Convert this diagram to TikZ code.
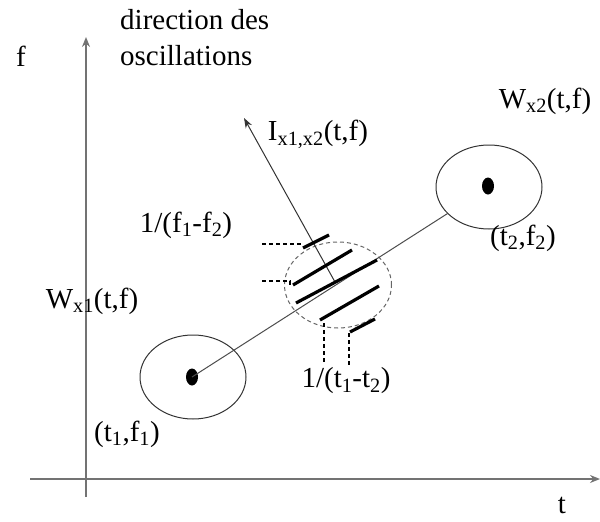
\documentclass[tikz,border=0pt]{standalone}
\usepackage{fontspec}
\setmainfont{Liberation Serif}
\usetikzlibrary{shapes.geometric,arrows.meta}
\begin{document}
\begin{tikzpicture}[x=1pt,y=-1pt,
  lbl/.style={font=\fontsize{29}{35}\selectfont, inner sep=0pt, text=black},
  axisline/.style={draw=black!55, line width=1.6pt, -{Stealth[length=10pt,width=8pt]}},
  blob/.style={ellipse, draw=black!80, line width=1pt, minimum width=106pt, minimum height=84pt, inner sep=0pt},
  dotnode/.style={ellipse, fill=black, minimum width=12pt, minimum height=17pt, inner sep=0pt},
  zone/.style={ellipse, draw=black!60, line width=1pt, dash pattern=on 4pt off 3pt, minimum width=107pt, minimum height=86pt, inner sep=0pt},
  hatch/.style={line width=3.2pt, black},
  guide/.style={line width=1.3pt, black, dash pattern=on 4pt off 3pt},
  thinline/.style={draw=black!70, line width=1pt},
  arrowline/.style={draw=black!80, line width=1pt, -{Stealth[length=10pt,width=7pt]}}
]
\useasboundingbox (0,0) rectangle (600,522);

% axes
\coordinate (ybot) at (86,497);
\coordinate (ytop) at (86,37);
\coordinate (xleft) at (30,479);
\coordinate (xright) at (600,479);
\draw[axisline] (ybot) -- (ytop);
\draw[axisline] (xleft) -- (xright);

% labels
\node[lbl, anchor=base] (lf) at (21,66) {f};
\node[lbl, anchor=base west] (dir1) at (120,29) {direction des};
\node[lbl, anchor=base west] (dir2) at (120,65) {oscillations};
\node[lbl, anchor=base] (lt) at (562,513) {t};

% ellipses and dots
\node[blob] (e1) at (193,377) {};
\node[dotnode] (d1) at (192,377) {};
\node[blob] (e2) at (489,187) {};
\node[dotnode] (d2) at (488,186) {};
\node[zone] (c) at (338,285) {};

% main line
\draw[thinline] (d1.center) -- (e2);

% interference arrow
\coordinate (itip) at (244,118);
\draw[arrowline] (335,282) -- (itip);

% hatching
\draw[hatch] (303,248) -- (329,235);
\draw[hatch] (293,285) -- (352,250);
\draw[hatch] (296,303) -- (377,260);
\draw[hatch] (320,320) -- (379,286);
\draw[hatch] (350,332) -- (375,319);

% guides
\draw[guide] (262,244) -- (303,244);
\draw[guide] (262,281) -- (290,281) -- (290,286);
\draw[guide] (324,323) -- (324,362);
\draw[guide] (349,333) -- (349,367);

% text labels
\node[lbl] (li) at (318,134) {I\textsubscript{x1,x2}(t,f)};
\node[lbl] (lw2) at (545,101) {W\textsubscript{x2}(t,f)};
\node[lbl] (lp2) at (523,238) {(t\textsubscript{2},f\textsubscript{2})};
\node[lbl] (lff) at (186,225) {1/(f\textsubscript{1}-f\textsubscript{2})};
\node[lbl] (lw1) at (92,301) {W\textsubscript{x1}(t,f)};
\node[lbl] (ltt) at (346,381) {1/(t\textsubscript{1}-t\textsubscript{2})};
\node[lbl] (lp1) at (127,434) {(t\textsubscript{1},f\textsubscript{1})};
\end{tikzpicture}
\end{document}
